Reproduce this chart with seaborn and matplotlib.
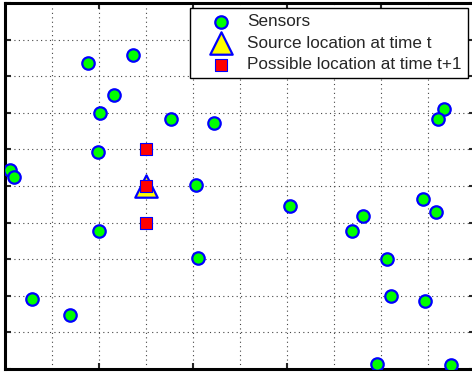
import matplotlib
matplotlib.use("Agg")
import matplotlib.pyplot as plt
import seaborn as sns
import pandas as pd
from matplotlib.ticker import MultipleLocator, FixedLocator

# Sensor positions in the field (0-100 x 0-100)
sensor_x = [17.7, 27.2, 23.2, 20.2, 35.3, 44.5, 19.8, 1.1, 1.9, 40.6,
            93.4, 92.1, 20.0, 41.1, 5.7, 13.8, 60.6, 76.2, 73.8, 88.9,
            91.7, 81.3, 82.1, 89.4, 79.1, 94.9]
sensor_y = [83.6, 85.8, 74.9, 69.9, 68.3, 67.2, 59.3, 54.4, 52.5, 50.3,
            71.0, 68.3, 37.7, 30.3, 19.1, 14.8, 44.5, 41.8, 37.7, 46.4,
            42.9, 30.1, 19.9, 18.6, 1.4, 1.1]

# Current source location
source_x = [30]
source_y = [50]

# Candidate locations at the next step
next_x = [30, 30, 30]
next_y = [60, 50, 40]

labels = ["Sensors", "Source location at time t", "Possible location at time t+1"]

sns.set_style("white")
plt.rcParams["font.family"] = ["Liberation Sans", "DejaVu Sans"]

W, H = 472, 378
fig = plt.figure(figsize=(W / 100, H / 100), dpi=100)
ax = fig.add_axes([5 / W, (H - 369) / H, 470 / W, 366 / H])

sensors = pd.DataFrame({"x": sensor_x, "y": sensor_y})
source = pd.DataFrame({"x": source_x, "y": source_y})
nxt = pd.DataFrame({"x": next_x, "y": next_y})

sns.scatterplot(data=sensors, x="x", y="y", ax=ax, marker="o", s=80,
                color="#00ff00", edgecolor="#0000ff", linewidth=1.6,
                label=labels[0], zorder=3)
sns.scatterplot(data=source, x="x", y="y", ax=ax, marker="^", s=260,
                color="#ffff00", edgecolor="#0000ff", linewidth=1.6,
                label=labels[1], zorder=4)
sns.scatterplot(data=nxt, x="x", y="y", ax=ax, marker="s", s=80,
                color="#ff0000", edgecolor="#0000ff", linewidth=0.8,
                label=labels[2], zorder=5)

ax.set_xlim(0, 100)
ax.set_ylim(0, 100)
ax.xaxis.set_major_locator(FixedLocator([20, 40, 60, 80]))
ax.xaxis.set_minor_locator(FixedLocator([10, 30, 50, 70, 90]))
ax.yaxis.set_major_locator(MultipleLocator(10))
ax.grid(True, which="both", color="#444444", linestyle=(0, (1, 3)), linewidth=0.8)
ax.set_axisbelow(True)
ax.tick_params(which="major", direction="in", length=4, width=1.5,
               top=True, right=True, bottom=True, left=True,
               labelbottom=False, labelleft=False)
ax.tick_params(which="minor", length=0)
ax.set_xlabel("")
ax.set_ylabel("")
for sp in ax.spines.values():
    sp.set_visible(True)
    sp.set_color("black")
    sp.set_linewidth(2.2)

leg = ax.legend(loc="upper right", bbox_to_anchor=(0.985, 0.986),
                borderaxespad=0, fontsize=12.3, frameon=True, fancybox=False,
                framealpha=1, edgecolor="black", handletextpad=0.1,
                handlelength=2.9, borderpad=0.35, labelspacing=0.38,
                markerscale=1.0)
leg.get_frame().set_linewidth(1.0)

fig.savefig("out.png", dpi=100)
